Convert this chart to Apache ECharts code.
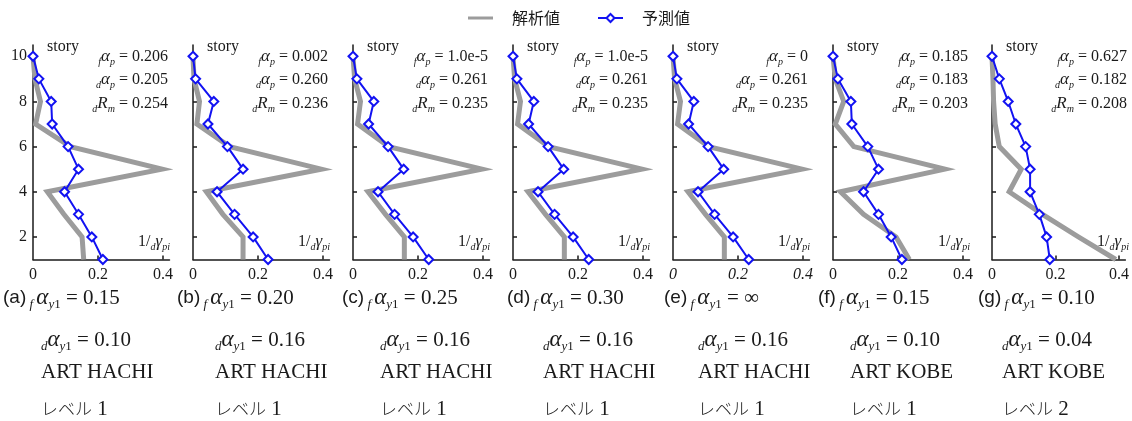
<!DOCTYPE html>
<html>
<head>
<meta charset="utf-8">
<script src="https://cdn.jsdelivr.net/npm/echarts@6/dist/echarts.min.js"></script>
<style>
html,body{margin:0;padding:0;background:#fff;}
#chart{width:1132px;height:421px;}
</style>
</head>
<body>
<div id="chart"></div>
<script>
// Story levels (bottom to top)
const stories = [1, 2, 3, 4, 5, 6, 7, 8, 9, 10];

// 1/dγpi per story, listed from story 1 up to story 10
const analysisA  = [0.156, 0.151, 0.095, 0.044, 0.397, 0.115, 0.008, 0.023, 0.006, 0];
const predictedA = [0.215, 0.181, 0.140, 0.097, 0.140, 0.108, 0.059, 0.056, 0.018, 0];
const analysisB  = [0.154, 0.154, 0.092, 0.041, 0.395, 0.113, 0.012, 0.020, 0.003, 0];
const predictedB = [0.231, 0.185, 0.128, 0.074, 0.154, 0.106, 0.046, 0.064, 0.008, 0];
const analysisC  = [0.158, 0.158, 0.100, 0.046, 0.397, 0.110, 0.014, 0.023, 0.005, 0];
const predictedC = [0.233, 0.185, 0.128, 0.077, 0.156, 0.108, 0.048, 0.064, 0.012, 0];
const analysisD  = [0.158, 0.158, 0.100, 0.046, 0.397, 0.110, 0.014, 0.023, 0.005, 0];
const predictedD = [0.233, 0.185, 0.128, 0.077, 0.156, 0.108, 0.048, 0.064, 0.012, 0];
const analysisE  = [0.158, 0.158, 0.100, 0.046, 0.397, 0.110, 0.014, 0.023, 0.005, 0];
const predictedE = [0.233, 0.185, 0.128, 0.077, 0.156, 0.108, 0.048, 0.064, 0.012, 0];
const analysisF  = [0.235, 0.194, 0.094, 0.023, 0.344, 0.064, 0.007, 0.033, 0.007, 0];
const predictedF = [0.212, 0.179, 0.140, 0.094, 0.140, 0.107, 0.058, 0.055, 0.015, 0];
const analysisG  = [0.390, 0.272, 0.159, 0.054, 0.092, 0.023, 0.010, 0.005, 0.003, 0];
const predictedG = [0.182, 0.172, 0.149, 0.120, 0.120, 0.106, 0.075, 0.051, 0.023, 0];

const analysisSets  = [analysisA, analysisB, analysisC, analysisD, analysisE, analysisF, analysisG];
const predictedSets = [predictedA, predictedB, predictedC, predictedD, predictedE, predictedF, predictedG];

// Axis ticks
const xTicks = [0, 0.2, 0.4];
const yTicks = [2, 4, 6, 8, 10];

// Per-panel annotations
const fAlphaP = ['0.206', '0.002', '1.0e-5', '1.0e-5', '0', '0.185', '0.627'];
const dAlphaP = ['0.205', '0.260', '0.261', '0.261', '0.261', '0.183', '0.182'];
const dRm     = ['0.254', '0.236', '0.235', '0.235', '0.235', '0.203', '0.208'];

// Captions under each panel
const panelTags  = ['(a)', '(b)', '(c)', '(d)', '(e)', '(f)', '(g)'];
const fAlphaY1   = ['0.15', '0.20', '0.25', '0.30', '\u221E', '0.15', '0.10'];
const dAlphaY1   = ['0.10', '0.16', '0.16', '0.16', '0.16', '0.10', '0.04'];
const records    = ['ART HACHI', 'ART HACHI', 'ART HACHI', 'ART HACHI', 'ART HACHI', 'ART KOBE', 'ART KOBE'];
const levelWord  = 'レベル';
const levelNums  = ['1', '1', '1', '1', '1', '1', '2'];

// Layout
const SERIF = '"Liberation Serif", "Times New Roman", serif';
const SANS = '"Liberation Sans", Arial, sans-serif';
const CJK = '"Noto Sans CJK JP", sans-serif';
const INK = '#1a1a1a';
const GRAY = '#9c9c9c';
const BLUE = '#1212f2';
const axisLeft = [33, 193, 353, 513, 673, 833, 992];
const plotTop = 45, plotH = 214.5, plotW = 136.5;
const captionLeft = [3, 177, 342, 507, 664, 818, 978];
const bodyLeft = [41, 215, 380, 543, 698, 850, 1002];
// thick horizontal bar centred in the legend icon box
const BAR_ICON = 'path://M0,0M0,7H50V13H0ZM50,20';

const grids = [], xAxes = [], yAxes = [], series = [], graphics = [];

const annRich = {
  n: {fontSize: 16, fontFamily: SERIF, fill: INK, lineHeight: 20},
  a: {fontSize: 17, fontFamily: SERIF, fontStyle: 'italic', fill: INK, lineHeight: 20},
  s: {fontSize: 10, fontFamily: SERIF, fontStyle: 'italic', fill: INK, lineHeight: 11, verticalAlign: 'bottom'}
};
const capRich = {
  tag: {fontSize: 19, fontFamily: SANS, fill: INK, lineHeight: 26},
  n: {fontSize: 21, fontFamily: SERIF, fill: INK, lineHeight: 26},
  a: {fontSize: 23, fontFamily: SERIF, fontStyle: 'italic', fill: INK, lineHeight: 26},
  s: {fontSize: 13, fontFamily: SERIF, fontStyle: 'italic', fill: INK, lineHeight: 14, verticalAlign: 'bottom'},
  u: {fontSize: 13, fontFamily: SERIF, fill: INK, lineHeight: 14, verticalAlign: 'bottom'}
};
const levelRich = {
  k: {fontSize: 17, fontFamily: CJK, fontWeight: 300, fill: INK},
  n: {fontSize: 21, fontFamily: SERIF, fill: INK}
};

for (let i = 0; i < 7; i++) {
  const L = axisLeft[i];
  grids.push({left: L, top: plotTop, width: plotW, height: plotH});
  xAxes.push({
    type: 'value', gridIndex: i, min: 0, max: 0.42,
    axisLine: {show: true, onZero: false, lineStyle: {color: INK, width: 1.5}},
    axisTick: {show: true, inside: true, length: 4, customValues: [0.2, 0.4], lineStyle: {color: INK, width: 1.5}},
    axisLabel: {
      show: true, customValues: xTicks, margin: 7,
      formatter: v => (v === 0 ? '0' : v.toFixed(1)),
      fontFamily: SERIF, fontSize: 16, color: INK, fontStyle: i === 4 ? 'italic' : 'normal'
    },
    splitLine: {show: false}
  });
  yAxes.push({
    type: 'value', gridIndex: i, min: 1, max: 10.5,
    axisLine: {show: true, onZero: false, lineStyle: {color: INK, width: 1.5}},
    axisTick: {show: true, inside: true, length: 4, customValues: yTicks, lineStyle: {color: INK, width: 1.5}},
    axisLabel: {
      show: i === 0, customValues: yTicks, margin: 6,
      fontFamily: SERIF, fontSize: 16, color: INK
    },
    splitLine: {show: false}
  });
  series.push({
    name: '解析値', type: 'line', xAxisIndex: i, yAxisIndex: i,
    data: stories.map((s, k) => [analysisSets[i][k], s]),
    symbol: 'none', z: 2,
    lineStyle: {color: GRAY, width: 5, join: 'miter'},
    itemStyle: {color: GRAY},
    silent: true, animation: false
  });
  series.push({
    name: '予測値', type: 'line', xAxisIndex: i, yAxisIndex: i,
    data: stories.map((s, k) => [predictedSets[i][k], s]),
    symbol: 'diamond', symbolSize: 9, z: 3,
    lineStyle: {color: BLUE, width: 2},
    itemStyle: {color: '#ffffff', borderColor: BLUE, borderWidth: 2},
    silent: true, animation: false
  });

  // Panel annotations
  graphics.push({type: 'text', x: L + 14, y: 47, style: {text: 'story', font: '16px ' + SERIF, fill: INK, verticalAlign: 'middle'}});
  const annX = L + 135;
  graphics.push({type: 'text', x: annX, y: 57, style: {text: `{s|f}{a|α}{s|p}{n| = ${fAlphaP[i]}}`, rich: annRich, align: 'right', verticalAlign: 'middle'}});
  graphics.push({type: 'text', x: annX, y: 80, style: {text: `{s|d}{a|α}{s|p}{n| = ${dAlphaP[i]}}`, rich: annRich, align: 'right', verticalAlign: 'middle'}});
  graphics.push({type: 'text', x: annX, y: 104, style: {text: `{s|d}{a|R}{s|m}{n| = ${dRm[i]}}`, rich: annRich, align: 'right', verticalAlign: 'middle'}});
  graphics.push({type: 'text', x: L + 137, y: 242, style: {text: `{n|1/}{s|d}{a|γ}{s|pi}`, rich: annRich, align: 'right', verticalAlign: 'middle'}});

  // Captions
  graphics.push({type: 'text', x: captionLeft[i], y: 298, style: {text: `{tag|${panelTags[i]}}{s| f }{a|α}{s|y}{u|1}{n| = ${fAlphaY1[i]}}`, rich: capRich, verticalAlign: 'middle'}});
  graphics.push({type: 'text', x: bodyLeft[i], y: 340, style: {text: `{s|d}{a|α}{s|y}{u|1}{n| = ${dAlphaY1[i]}}`, rich: capRich, verticalAlign: 'middle'}});
  graphics.push({type: 'text', x: bodyLeft[i], y: 372, style: {text: records[i], font: '21px ' + SERIF, fill: INK, verticalAlign: 'middle'}});
  graphics.push({type: 'text', x: bodyLeft[i], y: 409, style: {text: `{k|${levelWord}}{n| ${levelNums[i]}}`, rich: levelRich, verticalAlign: 'middle'}});
}

const chart = echarts.init(document.getElementById('chart'), null, {renderer: 'canvas'});
chart.setOption({
  backgroundColor: '#ffffff',
  animation: false,
  legend: {
    top: 5, left: 463,
    itemWidth: 25, itemHeight: 10, itemGap: 37,
    data: [
      {name: '解析値', icon: BAR_ICON, itemStyle: {color: GRAY, borderWidth: 0}},
      {name: '予測値'}
    ],
    textStyle: {fontFamily: CJK, fontSize: 16, color: INK, padding: [0, 0, 0, 14]}
  },
  grid: grids,
  xAxis: xAxes,
  yAxis: yAxes,
  series: series,
  graphic: graphics
});
</script>
</body>
</html>
